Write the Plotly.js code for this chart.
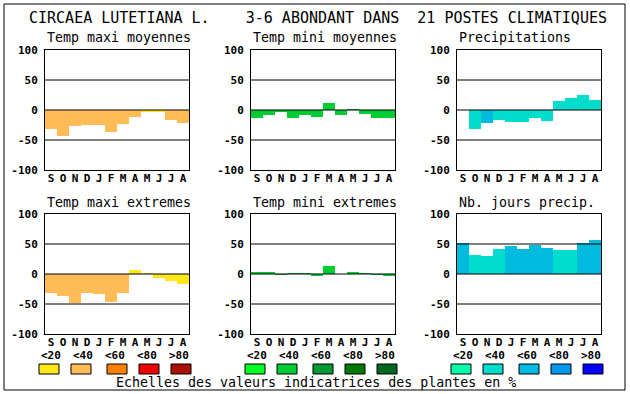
<!DOCTYPE html>
<html>
<head>
<meta charset="utf-8">
<script src="https://cdn.plot.ly/plotly-3.0.1.min.js"></script>
<style>html,body{margin:0;padding:0;background:#fff;}#chart{width:630px;height:394px;}</style>
</head>
<body>
<div id="chart"></div>
<script>
// ---- Data ----
const months = ["S","O","N","D","J","F","M","A","M","J","J","A"];
const panelTitles = ["Temp maxi moyennes","Temp mini moyennes","Precipitations",
                     "Temp maxi extremes","Temp mini extremes","Nb. jours precip."];
const mainTitle = "CIRCAEA LUTETIANA L.    3-6 ABONDANT DANS  21 POSTES CLIMATIQUES";
const footer = "Echelles des valeurs indicatrices des plantes en %";
const classLabels = ["&lt;20","&lt;40","&lt;60","&lt;80","&gt;80"];

// palettes (one per family of panels)
const warmPalette  = ["#FFE619","#FFBB55","#FF8000","#EE0000","#AA1100"];
const greenPalette = ["#00FF22","#00CC33","#009933","#007700","#006622"];
const bluePalette  = ["#00FFAA","#00DDCC","#00BBDD","#0099EE","#0000FF"];

// series values (%), and colour class for each month
const tmaxMoy      = [-31,-43,-27,-25,-25,-36,-23,-11,-4,-4,-17,-21];
const tmaxMoyCls   = [1,1,1,1,1,1,1,1,0,0,1,1];
const tminMoy      = [-13,-8,-3,-14,-8,-11,12,-8,2,-6,-13,-14];
const tminMoyCls   = [1,1,1,1,1,1,1,1,1,1,1,1];
const precip       = [0,-31,-21,-16,-20,-20,-14,-18,15,20,25,17];
const precipCls    = [1,1,2,1,1,1,1,1,1,1,1,1];
const tmaxExt      = [-32,-37,-49,-31,-34,-47,-32,7,2,-6,-12,-17];
const tmaxExtCls   = [1,1,1,1,1,1,1,0,0,0,0,0];
const tminExt      = [4,4,-2,2,2,-4,14,0,4,2,-2,-4];
const tminExtCls   = [1,1,1,1,1,1,1,1,1,1,1,1];
const nbJours      = [52,32,30,42,46,42,49,44,40,40,52,57];
const nbJoursCls   = [2,1,1,1,2,2,2,2,1,1,2,2];

const yTickVals = [100,50,0,-50,-100];
const yTickText = ["100","50","0","-50","-100"];
const gridVals  = [50,0,-50];

// ---- Layout helpers ----
const W = 630, H = 394;
const colPx = [[45,189],[251,395],[457,601]];
const rowPx = [[50,170],[214,334]];
const px = v => v / W;
const py = v => 1 - v / H;

const series = [
  [tmaxMoy, tmaxMoyCls, warmPalette],
  [tminMoy, tminMoyCls, greenPalette],
  [precip, precipCls, bluePalette],
  [tmaxExt, tmaxExtCls, warmPalette],
  [tminExt, tminExtCls, greenPalette],
  [nbJours, nbJoursCls, bluePalette]
];

const mono = "DejaVu Sans Mono, Liberation Mono, monospace";
const xIdx = months.map((m, i) => i);

const traces = [];
const layout = {
  width: W, height: H, autosize: false,
  margin: {l:0, r:0, t:0, b:0, pad:0},
  paper_bgcolor: "#fff", plot_bgcolor: "#fff",
  showlegend: false, bargap: 0,
  font: {family: mono, color: "#000"},
  shapes: [], annotations: []
};

series.forEach((s, k) => {
  const n = k + 1;
  const r = Math.floor(k / 3), c = k % 3;
  traces.push({
    type: "bar", x: xIdx, y: s[0],
    xaxis: "x" + n, yaxis: "y" + n,
    width: 1,
    marker: {color: s[1].map(ci => s[2][ci]), line: {width: 0}},
    hoverinfo: "skip"
  });
  const xa = {
    domain: [px(colPx[c][0]), px(colPx[c][1])],
    anchor: "y" + n, range: [-0.5, 11.5],
    tickvals: xIdx, ticktext: months, ticks: "",
    ticklabelstandoff: -2,
    showgrid: false, zeroline: false,
    showline: true, mirror: true, linecolor: "#000", linewidth: 1,
    tickfont: {family: mono, size: 11, weight: "bold", color: "#000"},
    fixedrange: true
  };
  const ya = {
    domain: [py(rowPx[r][1]), py(rowPx[r][0])],
    anchor: "x" + n, range: [-100, 100],
    tickvals: yTickVals, ticktext: yTickText, ticks: "",
    ticklabelstandoff: 4,
    showgrid: false, zeroline: false,
    showline: true, mirror: true, linecolor: "#000", linewidth: 1,
    tickfont: {family: mono, size: 11, weight: "bold", color: "#000"},
    fixedrange: true
  };
  layout["xaxis" + (n === 1 ? "" : n)] = xa;
  layout["yaxis" + (n === 1 ? "" : n)] = ya;

  gridVals.forEach(v => layout.shapes.push({
    type: "line", layer: "above",
    xref: "x" + n + " domain", x0: 0, x1: 1,
    yref: "y" + n, y0: v, y1: v,
    line: {color: "#000", width: 1}
  }));

  layout.annotations.push({
    text: panelTitles[k], xref: "paper", yref: "paper",
    x: px(colPx[c][0]), y: py(rowPx[r][0] - 12),
    xanchor: "left", yanchor: "middle", showarrow: false,
    font: {family: mono, size: 13.3, color: "#000"}
  });
});

// main title
layout.annotations.push({
  text: mainTitle, xref: "paper", yref: "paper",
  x: px(27), y: py(18), xanchor: "left", yanchor: "middle", showarrow: false,
  font: {family: mono, size: 15, color: "#000"}
});
// footer
layout.annotations.push({
  text: footer, xref: "paper", yref: "paper",
  x: px(316), y: py(382), xanchor: "center", yanchor: "middle", showarrow: false,
  font: {family: mono, size: 13.3, color: "#000"}
});

// colour scale keys
const palettes = [warmPalette, greenPalette, bluePalette];
const swatchOffsets = [0, 32, 68, 100, 132];
const labelOffsets  = [0, 32, 64, 96, 128];
palettes.forEach((pal, g) => {
  const gx = colPx[g][0] - 6;
  pal.forEach((col, i) => {
    const x0 = gx + swatchOffsets[i];
    layout.shapes.push({
      type: "rect", xref: "paper", yref: "paper",
      x0: px(x0), x1: px(x0 + 20), y0: py(374), y1: py(364),
      fillcolor: col, line: {color: "#000", width: 1}
    });
    layout.annotations.push({
      text: classLabels[i], xref: "paper", yref: "paper",
      x: px(gx + labelOffsets[i]), y: py(355),
      xanchor: "left", yanchor: "middle", showarrow: false,
      font: {family: mono, size: 11, weight: "bold", color: "#000"}
    });
  });
});

// outer frame
layout.shapes.push({
  type: "rect", xref: "paper", yref: "paper",
  x0: px(4), x1: px(625), y0: py(390), y1: py(4),
  line: {color: "#000", width: 1}, fillcolor: "rgba(0,0,0,0)"
});

Plotly.newPlot("chart", traces, layout, {staticPlot: true, displayModeBar: false});
</script>
</body>
</html>
